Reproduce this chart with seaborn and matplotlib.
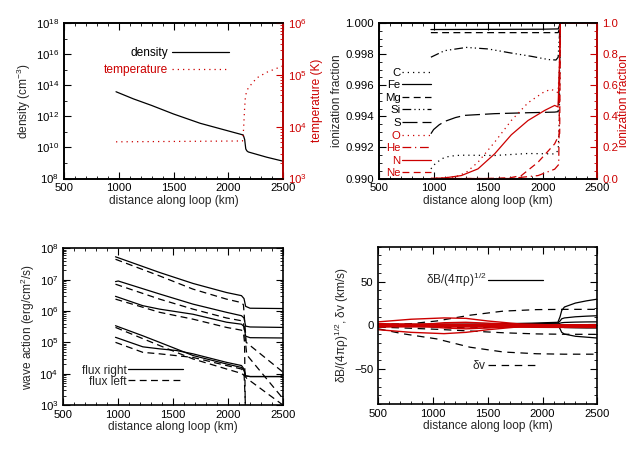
import numpy as np
import pandas as pd
import matplotlib
matplotlib.use("Agg")
import matplotlib.pyplot as plt
import matplotlib.ticker as mticker
import seaborn as sns

RED = "#cc0000"

# ---------------- panel 1: density / temperature ----------------
dens_x = [975, 1134, 1300, 1500, 1744, 2048, 2137, 2150, 2160, 2170, 2183, 2351, 2497]
dens_y = [3.8e13, 1.32e13, 5.0e12, 1.41e12, 3.55e11, 9.3e10, 6.3e10, 3.2e10, 8.0e9, 6.0e9, 5.1e9, 2.35e9, 1.32e9]
temp_x = [975, 2130, 2140, 2148, 2155, 2165, 2183, 2260, 2351, 2497]
temp_y = [5100, 5300, 9000, 2.0e4, 3.4e4, 4.6e4, 5.6e4, 8.7e4, 1.12e5, 1.48e5]

# ---------------- panel 2: ionization fractions ----------------
ion_labels = ["C", "Fe", "Mg", "Si", "S", "O", "He", "N", "Ne"]
c_x = [975, 1020, 1101, 1200, 1284, 1559, 1864, 2108, 2140, 2150, 2160, 2500]
c_y = [0.99062, 0.99100, 0.99137, 0.99148, 0.99150, 0.99148, 0.99161, 0.99158, 0.99180, 0.99350, 1.0, 1.0]
fe_x = [975, 1500, 2000, 2140, 2150, 2160, 2500]
fe_y = [0.99958, 0.99959, 0.99960, 0.99962, 0.99980, 1.0, 1.0]
mg_x = [975, 2140, 2150, 2160, 2500]
mg_y = [0.99938, 0.99938, 0.99960, 1.0, 1.0]
si_x = [975, 1100, 1300, 1500, 1700, 1900, 2050, 2120, 2140, 2150, 2160, 2500]
si_y = [0.99780, 0.99822, 0.99843, 0.99833, 0.99808, 0.99785, 0.99765, 0.99762, 0.99780, 0.99900, 1.0, 1.0]
s_x = [975, 1000, 1050, 1101, 1200, 1284, 1559, 1864, 2108, 2140, 2150, 2160, 2500]
s_y = [0.99288, 0.99315, 0.99345, 0.99367, 0.99392, 0.99406, 0.99417, 0.99423, 0.99427, 0.99430, 0.99600, 1.0, 1.0]
o_x = [975, 1200, 1300, 1406, 1559, 1711, 1864, 2017, 2078, 2139, 2150, 2160, 2500]
o_y = [0.0, 0.01, 0.04, 0.105, 0.234, 0.373, 0.487, 0.56, 0.573, 0.552, 0.70, 1.0, 1.0]
he_x = [975, 1700, 1956, 2108, 2145, 2160, 2500]
he_y = [0.0, 0.0, 0.019, 0.06, 0.09, 1.0, 1.0]
n_x = [975, 1100, 1254, 1406, 1559, 1711, 1864, 2017, 2108, 2139, 2150, 2160, 2500]
n_y = [0.0, 0.004, 0.019, 0.062, 0.159, 0.281, 0.373, 0.438, 0.470, 0.46, 0.70, 1.0, 1.0]
ne_x = [975, 1500, 1700, 1803, 1956, 2108, 2154, 2160, 2500]
ne_y = [0.0, 0.0, 0.005, 0.019, 0.105, 0.223, 0.29, 1.0, 1.0]

# ---------------- panel 3: wave action ----------------
fr1_x = [975, 1377, 1681, 1986, 2122, 2145, 2160, 2200, 2500]
fr1_y = [5.4e7, 1.7e7, 7.6e6, 3.9e6, 3.1e6, 2.5e6, 1.41e6, 1.23e6, 1.2e6]
fl1_x = [975, 1377, 1681, 1986, 2122, 2140, 2165, 2500]
fl1_y = [4.5e7, 1.32e7, 5.0e6, 2.4e6, 1.86e6, 1.58e6, 1.0e5, 1.12e4]
fr2_x = [975, 1000, 1377, 1681, 1986, 2122, 2145, 2160, 2200, 2500]
fr2_y = [8.7e6, 9.1e6, 3.5e6, 1.66e6, 9.1e5, 7.1e5, 6.0e5, 3.3e5, 3.1e5, 3.0e5]
fl2_x = [975, 1377, 1681, 1986, 2122, 2140, 2170, 2500]
fl2_y = [7.2e6, 2.4e6, 1.15e6, 6.0e5, 4.9e5, 4.5e5, 4.0e4, 1.6e3]
fr3_x = [975, 1224, 1377, 1681, 1986, 2122, 2145, 2160, 2200, 2500]
fr3_y = [2.95e6, 1.48e6, 1.15e6, 7.9e5, 4.4e5, 3.8e5, 3.2e5, 1.58e5, 1.41e5, 1.38e5]
fl3_x = [975, 1224, 1377, 1681, 1986, 2122, 2140, 2150, 2158]
fl3_y = [2.4e6, 1.32e6, 9.1e5, 5.5e5, 3.0e5, 2.45e5, 2.0e5, 1.0e5, 3.0e2]
fr4_x = [975, 1224, 1377, 1681, 1986, 2122, 2145, 2160, 2200, 2500]
fr4_y = [3.4e5, 1.62e5, 1.0e5, 3.8e4, 2.04e4, 1.58e4, 1.26e4, 8.5e3, 8.1e3, 8.1e3]
fl4_x = [975, 1377, 1681, 1986, 2122, 2145, 2170, 2480, 2500]
fl4_y = [3.0e5, 7.9e4, 2.95e4, 1.41e4, 1.02e4, 8.9e3, 7.1e3, 1.12e3, 1.0e3]
fr5_x = [975, 1224, 1377, 1529, 1681, 1986, 2122, 2145, 2160, 2200, 2500]
fr5_y = [1.45e5, 7.2e4, 6.2e4, 5.5e4, 4.3e4, 2.3e4, 1.82e4, 1.41e4, 8.5e3, 8.1e3, 8.1e3]
fl5_x = [975, 1224, 1377, 1681, 1986, 2122, 2145, 2158, 2165]
fl5_y = [1.0e5, 4.8e4, 4.3e4, 3.3e4, 1.82e4, 1.41e4, 1.12e4, 1.0e3, 1.0e2]

# ---------------- panel 4: velocity amplitudes ----------------
db_x = [500, 1000, 1500, 1900, 2140, 2160, 2175, 2200, 2300, 2400, 2500]
db1_y = [1.0, 1.2, 1.5, 2.5, 3.5, 10.0, 17.0, 21.0, 25.5, 28.0, 30.0]
db2_y = [0.5, 0.7, 1.0, 1.8, 2.5, 5.0, 7.5, 8.5, 9.8, 10.5, 11.0]
db3_y = [0.0, 0.2, 0.5, 1.0, 1.5, 2.5, 3.0, 3.3, 3.7, 3.9, 4.0]
db4_y = [-0.5, -0.5, -0.3, 0.3, 1.0, -1.0, -2.0, -2.5, -2.8, -3.0, -3.0]
db5_y = [-1.0, -1.2, -1.0, 0.0, 0.5, -4.0, -8.0, -10.0, -12.5, -13.5, -14.5]
dv_x = [500, 728, 1033, 1337, 1642, 1947, 2200, 2500]
dv1_y = [0.0, 1.0, 5.0, 11.6, 16.3, 18.0, 18.3, 18.3]
dv2_y = [-4.0, -9.7, -15.5, -25.0, -30.5, -32.5, -33.0, -33.0]
dv3_y = [-2.0, -3.0, -4.5, -6.5, -8.5, -9.8, -10.2, -10.3]
dv4_y = [1.5, 1.5, 1.0, 0.5, 0.0, -0.5, -1.0, -1.0]
dv5_y = [-0.5, -1.0, -2.0, -3.0, -2.0, -0.5, 0.5, 1.0]
red_x = [500, 800, 1100, 1300, 1500, 1800, 2100, 2500]
red1_y = [4.0, 7.0, 8.5, 8.0, 5.0, 1.5, 0.5, 0.5]
red2_y = [-5.0, -8.0, -9.5, -8.0, -5.0, -1.5, -0.5, -0.5]
red3_y = [2.0, 0.0, -3.0, -4.0, -3.0, -1.0, 0.0, 0.0]
red4_y = [-2.0, 0.0, 3.0, 3.5, 2.5, 1.0, 0.0, 0.0]
red5_y = [0.8, 0.6, 0.5, 0.3, 0.2, 0.0, -0.2, -0.3]
red6_y = [-0.8, -0.8, -0.9, -1.0, -1.0, -1.2, -1.4, -1.5]

# ---------------- style ----------------
sns.set_style("ticks")
plt.rcParams["font.family"] = ["Liberation Sans", "DejaVu Sans"]
plt.rcParams["mathtext.default"] = "regular"
TFS = 8.2
LFS = 8.6
plt.rcParams.update({"font.size": LFS, "axes.labelsize": LFS, "xtick.labelsize": TFS,
                     "ytick.labelsize": TFS, "legend.fontsize": LFS,
                     "axes.linewidth": 1.2, "axes.edgecolor": "black"})

DOT = (0, (1, 3.2))
DASH = (0, (5.5, 3.5))
DASHDOT = (0, (7, 3, 1, 3))
DASH3DOT = (0, (7, 2.5, 1, 2.5, 1, 2.5, 1, 2.5))
LONGDASH = (0, (12, 4))
LW = 0.9


def draw(ax, xs, ys, color="black", ls="-", lw=LW):
    sns.lineplot(x=xs, y=ys, ax=ax, color=color, linestyle=ls, linewidth=lw,
                 sort=False, estimator=None, errorbar=None)
    return ax.lines[-1]


def style_axis(ax, right=True):
    ax.tick_params(which="both", direction="in", top=True, right=right, colors="black")
    ax.tick_params(which="major", length=5, width=0.8)
    ax.tick_params(which="minor", length=2.5, width=0.6)
    ax.set_xlim(500, 2500)
    ax.xaxis.set_major_locator(mticker.MultipleLocator(500))
    ax.xaxis.set_minor_locator(mticker.MultipleLocator(100))
    ax.set_xlabel("distance along loop (km)", labelpad=1)


def style_red(ax2):
    ax2.tick_params(which="both", direction="in", colors=RED, left=False, top=False, bottom=False)
    ax2.tick_params(which="major", length=5, width=0.8)
    ax2.tick_params(which="minor", length=2.5, width=0.6)
    ax2.spines["right"].set_color(RED)
    ax2.yaxis.label.set_color(RED)


fig = plt.figure(figsize=(6.3, 4.5), dpi=100)

# ===== panel 1 =====
ax1 = fig.add_axes([0.1016, 0.6033, 0.3476, 0.3456])
h_d = draw(ax1, dens_x, dens_y)
ax1.set_yscale("log")
ax1.set_ylim(1e8, 1e18)
ax1.yaxis.set_major_locator(mticker.LogLocator(base=100.0, numticks=20))
ax1.yaxis.set_major_formatter(mticker.LogFormatterSciNotation(base=10))
ax1.yaxis.set_minor_locator(mticker.LogLocator(base=10.0, subs=(1.0,), numticks=30))
ax1.yaxis.set_minor_formatter(mticker.NullFormatter())
style_axis(ax1, right=False)
ax1.set_ylabel("density (cm$^{-3}$)", labelpad=2)
ax1b = ax1.twinx()
h_t = draw(ax1b, temp_x, temp_y, RED, DOT)
ax1b.set_yscale("log")
ax1b.set_ylim(1e3, 1e6)
ax1b.set_xlim(500, 2500)
ax1b.yaxis.set_minor_locator(mticker.LogLocator(base=10.0, subs=np.arange(2, 10) * 1.0, numticks=30))
ax1b.yaxis.set_minor_formatter(mticker.NullFormatter())
style_red(ax1b)
ax1b.set_ylabel("temperature (K)", color=RED, labelpad=3)
ax1b.legend([h_d, h_t], ["density", "temperature"], markerfirst=False, frameon=False,
            loc="center right", bbox_to_anchor=(0.755, 0.75), handlelength=4.8,
            handletextpad=0.3, labelspacing=0.42, borderpad=0, borderaxespad=0,
            labelcolor=["black", RED])

# ===== panel 2 =====
ax2 = fig.add_axes([0.6016, 0.6033, 0.3468, 0.3456])
hc = draw(ax2, c_x, c_y, "black", DOT)
hfe = draw(ax2, fe_x, fe_y, "black", "-")
hmg = draw(ax2, mg_x, mg_y, "black", DASH)
hsi = draw(ax2, si_x, si_y, "black", DASH3DOT)
hs = draw(ax2, s_x, s_y, "black", LONGDASH)
ax2.set_ylim(0.990, 1.000)
ax2.yaxis.set_major_locator(mticker.MultipleLocator(0.002))
ax2.yaxis.set_minor_locator(mticker.MultipleLocator(0.0005))
ax2.yaxis.set_major_formatter(mticker.FormatStrFormatter("%.3f"))
style_axis(ax2, right=False)
ax2.set_ylabel("ionization fraction", labelpad=2)
ax2b = ax2.twinx()
ho = draw(ax2b, o_x, o_y, RED, DOT)
hhe = draw(ax2b, he_x, he_y, RED, DASHDOT)
hn = draw(ax2b, n_x, n_y, RED, "-")
hne = draw(ax2b, ne_x, ne_y, RED, DASH)
ax2b.set_ylim(0.0, 1.0)
ax2b.set_xlim(500, 2500)
ax2b.yaxis.set_major_locator(mticker.MultipleLocator(0.2))
ax2b.yaxis.set_minor_locator(mticker.MultipleLocator(0.05))
ax2b.yaxis.set_major_formatter(mticker.FormatStrFormatter("%.1f"))
style_red(ax2b)
ax2b.set_ylabel("ionization fraction", color=RED, labelpad=0)
ax2b.legend([hc, hfe, hmg, hsi, hs, ho, hhe, hn, hne], ion_labels, markerfirst=False,
            frameon=False, loc="center right", bbox_to_anchor=(0.24, 0.357),
            handlelength=2.6, handletextpad=0.1, labelspacing=0.23, borderpad=0,
            borderaxespad=0, fontsize=8.2, labelcolor=["black"] * 5 + [RED] * 4)

# ===== panel 3 =====
ax3 = fig.add_axes([0.1005, 0.1, 0.3487, 0.348])
right_series = [(fr1_x, fr1_y), (fr2_x, fr2_y), (fr3_x, fr3_y), (fr4_x, fr4_y), (fr5_x, fr5_y)]
left_series = [(fl1_x, fl1_y), (fl2_x, fl2_y), (fl3_x, fl3_y), (fl4_x, fl4_y), (fl5_x, fl5_y)]
for xs, ys in left_series:
    h_fl = draw(ax3, xs, ys, "black", DASH)
for xs, ys in right_series:
    h_fr = draw(ax3, xs, ys, "black", "-")
ax3.set_yscale("log")
ax3.set_ylim(1e3, 1e8)
ax3.yaxis.set_major_locator(mticker.LogLocator(base=10.0, numticks=20))
ax3.yaxis.set_minor_locator(mticker.LogLocator(base=10.0, subs=np.arange(2, 10) * 1.0, numticks=30))
ax3.yaxis.set_minor_formatter(mticker.NullFormatter())
style_axis(ax3)
ax3.set_ylabel("wave action (erg/cm$^2$/s)", labelpad=2)
ax3.legend([h_fr, h_fl], ["flux right", "flux left"], markerfirst=False, frameon=False,
           loc="center right", bbox_to_anchor=(0.543, 0.185), handlelength=4.6,
           handletextpad=0.1, labelspacing=-0.08, borderpad=0, borderaxespad=0)

# ===== panel 4 =====
ax4 = fig.add_axes([0.6005, 0.1022, 0.3476, 0.3496])
for ys in [dv1_y, dv2_y, dv3_y, dv4_y, dv5_y]:
    h_dv = draw(ax4, dv_x, ys, "black", (0, (6, 4.5)))
for ys in [db1_y, db2_y, db3_y, db4_y, db5_y]:
    h_db = draw(ax4, db_x, ys, "black", "-")
for ys in [red1_y, red2_y, red3_y, red4_y]:
    draw(ax4, red_x, ys, RED, "-", 1.0)
for ys in [red5_y, red6_y]:
    draw(ax4, red_x, ys, RED, "-", 2.2)
ax4.set_ylim(-90, 90)
ax4.yaxis.set_major_locator(mticker.MultipleLocator(50))
ax4.yaxis.set_minor_locator(mticker.MultipleLocator(10))
style_axis(ax4)
ax4.set_ylabel(r"$\delta B/(4\pi\rho)^{1/2}$, $\delta v$ (km/s)", labelpad=2)
leg_a = ax4.legend([h_db], [r"$\delta B/(4\pi\rho)^{1/2}$"], markerfirst=False, frameon=False,
                   loc="center right", bbox_to_anchor=(0.752, 0.79), handlelength=4.6,
                   handletextpad=0.1, borderpad=0, borderaxespad=0)
ax4.add_artist(leg_a)
ax4.legend([h_dv], [r"$\delta v$"], markerfirst=False, frameon=False,
           loc="center right", bbox_to_anchor=(0.73, 0.245), handlelength=4.2,
           handletextpad=0.1, borderpad=0, borderaxespad=0)

fig.savefig("out.png", dpi=100)
